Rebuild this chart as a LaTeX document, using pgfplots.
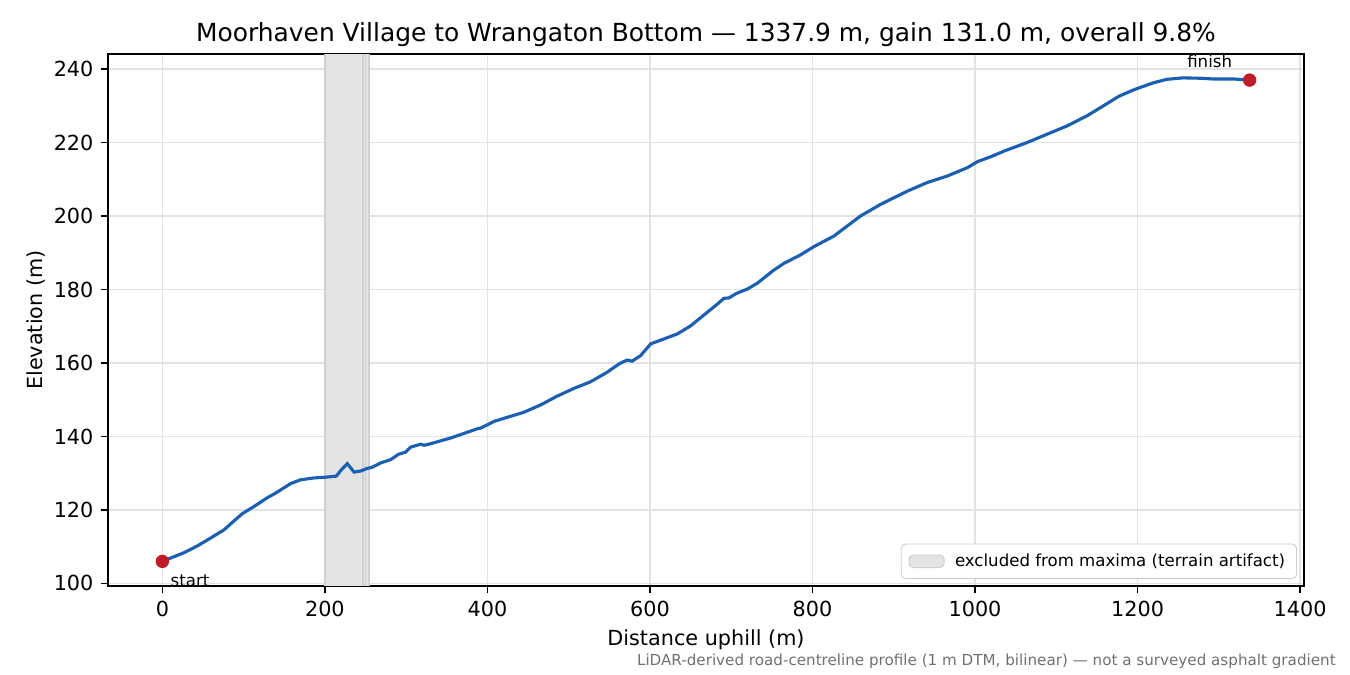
\documentclass[border=0pt]{standalone}
\usepackage{pgfplots}
\pgfplotsset{compat=1.18}
\usepackage{fontspec}
\setmainfont{DejaVu Sans}
\definecolor{lineblue}{HTML}{1A5FB4}
\definecolor{dotred}{HTML}{C01C28}
\definecolor{spanfill}{HTML}{E4E4E4}
\definecolor{spanedge}{HTML}{D0D0D0}
\definecolor{gridc}{HTML}{E3E3E3}
\definecolor{footc}{HTML}{707070}
\begin{document}
\begin{tikzpicture}
\path[use as bounding box] (-51.84bp,-42.72bp) rectangle (596.16bp,281.28bp);
\begin{axis}[
  at={(0,0)}, anchor=south west,
  scale only axis, width=574.08bp, height=255.36bp,
  xmin=-66.9, xmax=1404.8, ymin=99.3, ymax=244.1,
  clip=false,
  xtick={0,200,...,1400}, ytick={100,120,...,240},
  xtick pos=bottom, ytick pos=left,
  tick align=outside, major tick length=3.5bp,
  tick style={black, line width=0.8bp},
  axis line style={black, line width=0.8bp},
  grid=major, major grid style={gridc, line width=0.8bp},
  /pgf/number format/assume math mode=true,
  /pgf/number format/1000 sep={},
  ticklabel style={font=\fontsize{10}{12}\selectfont},
  xlabel={Distance uphill (m)},
  xlabel style={at={(axis description cs:0.5,-0.112)}, anchor=base, font=\fontsize{10}{12}\selectfont, inner sep=0pt},
  ylabel={Elevation (m)},
  ylabel style={at={(axis description cs:-0.0547,0.5)}, anchor=base, rotate=0, font=\fontsize{10}{12}\selectfont, inner sep=0pt},
  legend style={at={(axis description cs:1,0)}, anchor=south east, xshift=-3.4bp, yshift=3.4bp,
    draw=black!20, rounded corners=2bp, fill=white, font=\fontsize{8}{10}\selectfont,
    inner xsep=3.5bp, inner ysep=2.5bp,
    /tikz/every odd column/.append style={column sep=3bp}},
  legend cell align=left,
]
% excluded span
\addplot[fill=spanfill, draw=none, forget plot] coordinates {(200,99.3) (254,99.3) (254,244.1) (200,244.1)} -- cycle;
\addplot[spanedge, line width=0.8bp, forget plot] coordinates {(200,99.3) (200,244.1)};
\addplot[spanedge, line width=0.8bp, forget plot] coordinates {(247,99.3) (247,244.1)};
\addplot[spanedge, line width=0.6bp, forget plot] coordinates {(250,99.3) (250,244.1)};
\addplot[spanedge, line width=0.8bp, forget plot] coordinates {(254,99.3) (254,244.1)};
\addlegendimage{legend image code/.code={\fill[spanfill, draw=spanedge, line width=0.5bp] (-2bp,-3bp) rectangle (14.8bp,3bp);}}
\addlegendentry{excluded from maxima (terrain artifact)}
% profile
\addplot[lineblue, line width=1.5bp, forget plot] coordinates {
(0,106.0) (10,106.9) (26,108.3) (43,110.2) (59,112.3) (76,114.6) (88,117.0)
(98.5,119.0) (112.5,120.9) (129,123.3) (141,124.8) (158,127.2) (170,128.2)
(186,128.7) (200,128.9) (214,129.2) (219,130.6) (227.5,132.6) (236,130.3)
(244,130.6) (252,131.3) (258,131.6) (268.6,132.8) (281,133.7) (291,135.2)
(299,135.7) (305.5,137.1) (318,137.9) (322,137.6) (328,137.9) (355,139.6)
(387.7,142.1) (392,142.3) (408,144.1) (445,146.6) (465.6,148.6) (486,151.0)
(506.6,153.1) (527,154.9) (547.5,157.5) (555.7,158.8) (564,160.0) (572,160.8)
(578,160.5) (588.5,162.0) (600.8,165.2) (613,166.2) (633.6,167.9) (650,170.1)
(670.5,173.8) (682.8,176.0) (691,177.6) (697,177.7) (707,179.0) (719.7,180.1)
(732,181.7) (752.5,185.3) (764.8,187.1) (785,189.4) (802,191.7) (826,194.5)
(859,200.0) (884,203.2) (917,206.8) (941,209.1) (966,210.9) (991,213.2)
(1003,214.8) (1019,216.1) (1036,217.7) (1064,220.0) (1089,222.3) (1113,224.5)
(1138,227.3) (1158,230.0) (1177,232.6) (1197,234.5) (1220,236.3) (1236,237.2)
(1256,237.6) (1277,237.5) (1293,237.3) (1318,237.3) (1337.9,237.0)
};
% endpoints
\addplot[only marks, mark=*, mark size=3bp, dotred, forget plot] coordinates {(0,106.0) (1337.9,237.0)};
\node[anchor=west, inner sep=0pt, font=\fontsize{8}{10}\selectfont, xshift=3.8bp, yshift=-9.1bp] at (axis cs:0,106.0) {start};
\node[anchor=center, inner sep=0pt, font=\fontsize{8}{10}\selectfont, xshift=-19.2bp, yshift=9.1bp] at (axis cs:1337.9,237.0) {finish};
\node[anchor=base, inner sep=0pt, font=\fontsize{12}{14}\selectfont] at (axis description cs:0.5,1.0227) {Moorhaven Village to Wrangaton Bottom — 1337.9 m, gain 131.0 m, overall 9.8\%};
\node[anchor=east, inner sep=0pt, font=\fontsize{7.3}{9}\selectfont, text=footc] at (axis description cs:1.0268,-0.142) {LiDAR-derived road-centreline profile (1 m DTM, bilinear) — not a surveyed asphalt gradient};
\end{axis}
\end{tikzpicture}
\end{document}
